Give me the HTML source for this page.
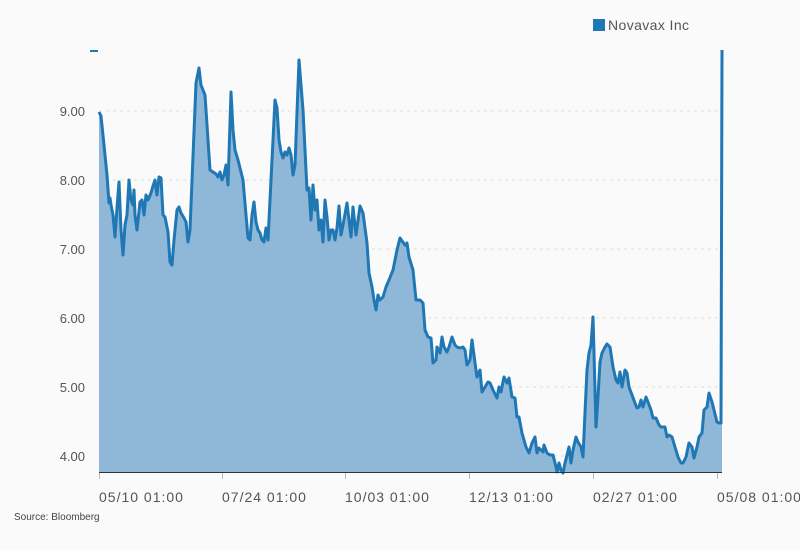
<!DOCTYPE html><html><head><style>body{margin:0;background:#fafafa}svg{display:block;font-family:"Liberation Sans",sans-serif}</style></head><body>
<svg width="800" height="550" viewBox="0 0 800 550">
<rect width="800" height="550" fill="#fafafa"/>
<g stroke="#ddd" stroke-dasharray="3,4" stroke-width="1">
<line x1="99" x2="722" y1="111" y2="111"/><line x1="99" x2="722" y1="180" y2="180"/><line x1="99" x2="722" y1="249" y2="249"/><line x1="99" x2="722" y1="318" y2="318"/><line x1="99" x2="722" y1="387" y2="387"/><line x1="99" x2="722" y1="456" y2="456"/></g>
<g font-size="13" fill="#555" text-anchor="end"><text x="85" y="116">9.00</text><text x="85" y="185">8.00</text><text x="85" y="254">7.00</text><text x="85" y="323">6.00</text><text x="85" y="392">5.00</text><text x="85" y="461">4.00</text></g>
<line x1="90" x2="98" y1="51" y2="51" stroke="#1f77b4" stroke-width="2"/>
<polyline fill="#8fb7d8" stroke="none" points="99,472 99,112 101,116 104,145 107,175 109,203 110,198 111,205 113,215 115,237 117,208 119,182 121,230 123,255 125,225 127,215 129,180 131,200 133,205 134,190 135,215 137,230 140,202 142,200 144,215 146,195 148,200 151,193 153,186 155,180 157,195 159,177 161,178 163,215 165,217 168,232 170,262 172,265 174,240 177,210 179,207 181,213 184,218 186,222 188,242 190,230 196,83 199,68 201,85 205,95 210,170 213,172 216,174 218,177 220,172 222,180 224,175 226,165 228,185 231,92 233,130 235,150 238,160 243,180 246,215 248,238 250,240 252,215 254,202 256,222 258,230 260,233 262,240 264,242 266,228 268,240 275,100 277,108 279,140 281,152 283,158 285,152 287,155 289,148 291,155 293,175 295,165 299,60 301,85 303,110 305,150 307,190 309,188 311,220 313,185 315,210 317,200 319,230 321,220 323,242 325,200 327,217 329,240 331,230 333,230 335,240 337,228 339,206 341,235 343,225 347,203 351,237 353,207 356,235 360,206 363,213 367,243 369,273 372,287 374,300 376,310 378,295 380,300 383,297 386,287 389,280 393,270 397,250 400,238 405,245 407,243 409,257 413,270 416,300 420,300 423,303 425,330 428,337 431,338 433,363 436,360 437,347 440,353 442,337 444,347 447,352 449,347 452,337 455,345 457,347 460,348 463,347 465,350 467,365 470,360 472,340 475,363 477,377 480,370 482,392 485,387 488,382 490,383 493,390 497,398 499,387 501,392 504,377 507,383 509,378 512,397 515,398 517,417 519,417 522,433 526,447 529,453 532,443 535,437 537,453 539,448 543,452 544,445 547,453 550,455 553,455 556,467 557,472 559,463 561,470 563,473 565,463 569,447 571,463 573,450 576,437 578,442 581,447 583,457 585,413 587,370 589,353 591,345 593,317 594,353 596,427 598,397 600,362 602,353 605,347 607,344 610,347 613,367 616,380 618,383 620,372 622,387 625,370 627,373 629,387 632,395 635,403 637,408 639,407 641,400 643,407 646,397 648,402 651,410 653,418 656,418 659,425 661,427 665,427 667,437 669,435 672,437 675,447 678,457 681,463 683,463 686,457 689,443 692,447 694,458 697,447 699,437 702,433 704,410 707,407 709,393 712,402 714,410 717,422 719,423 721,423 722,50 722,472"/>
<polyline fill="none" stroke="#1f77b4" stroke-width="3" stroke-linejoin="round" points="99,112 101,116 104,145 107,175 109,203 110,198 111,205 113,215 115,237 117,208 119,182 121,230 123,255 125,225 127,215 129,180 131,200 133,205 134,190 135,215 137,230 140,202 142,200 144,215 146,195 148,200 151,193 153,186 155,180 157,195 159,177 161,178 163,215 165,217 168,232 170,262 172,265 174,240 177,210 179,207 181,213 184,218 186,222 188,242 190,230 196,83 199,68 201,85 205,95 210,170 213,172 216,174 218,177 220,172 222,180 224,175 226,165 228,185 231,92 233,130 235,150 238,160 243,180 246,215 248,238 250,240 252,215 254,202 256,222 258,230 260,233 262,240 264,242 266,228 268,240 275,100 277,108 279,140 281,152 283,158 285,152 287,155 289,148 291,155 293,175 295,165 299,60 301,85 303,110 305,150 307,190 309,188 311,220 313,185 315,210 317,200 319,230 321,220 323,242 325,200 327,217 329,240 331,230 333,230 335,240 337,228 339,206 341,235 343,225 347,203 351,237 353,207 356,235 360,206 363,213 367,243 369,273 372,287 374,300 376,310 378,295 380,300 383,297 386,287 389,280 393,270 397,250 400,238 405,245 407,243 409,257 413,270 416,300 420,300 423,303 425,330 428,337 431,338 433,363 436,360 437,347 440,353 442,337 444,347 447,352 449,347 452,337 455,345 457,347 460,348 463,347 465,350 467,365 470,360 472,340 475,363 477,377 480,370 482,392 485,387 488,382 490,383 493,390 497,398 499,387 501,392 504,377 507,383 509,378 512,397 515,398 517,417 519,417 522,433 526,447 529,453 532,443 535,437 537,453 539,448 543,452 544,445 547,453 550,455 553,455 556,467 557,472 559,463 561,470 563,473 565,463 569,447 571,463 573,450 576,437 578,442 581,447 583,457 585,413 587,370 589,353 591,345 593,317 594,353 596,427 598,397 600,362 602,353 605,347 607,344 610,347 613,367 616,380 618,383 620,372 622,387 625,370 627,373 629,387 632,395 635,403 637,408 639,407 641,400 643,407 646,397 648,402 651,410 653,418 656,418 659,425 661,427 665,427 667,437 669,435 672,437 675,447 678,457 681,463 683,463 686,457 689,443 692,447 694,458 697,447 699,437 702,433 704,410 707,407 709,393 712,402 714,410 717,422 719,423 721,423 722,50"/>
<line x1="99" x2="722" y1="472.5" y2="472.5" stroke="#333" stroke-width="1"/>
<g stroke="#bbb"><line x1="99.5" x2="99.5" y1="473" y2="479"/><line x1="222.5" x2="222.5" y1="473" y2="479"/><line x1="345.5" x2="345.5" y1="473" y2="479"/><line x1="469.5" x2="469.5" y1="473" y2="479"/><line x1="593.5" x2="593.5" y1="473" y2="479"/><line x1="717.5" x2="717.5" y1="473" y2="479"/></g>
<g font-size="14" fill="#555" letter-spacing="1"><text x="99" y="502">05/10 01:00</text><text x="222" y="502">07/24 01:00</text><text x="345" y="502">10/03 01:00</text><text x="469" y="502">12/13 01:00</text><text x="593" y="502">02/27 01:00</text><text x="717" y="502">05/08 01:00</text></g>
<text x="14" y="520" font-size="10" fill="#444">Source: Bloomberg</text>
<rect x="593" y="19" width="12" height="12" fill="#1f77b4"/>
<text x="608" y="30" font-size="14" fill="#555" letter-spacing="0.4">Novavax Inc</text>
</svg></body></html>
